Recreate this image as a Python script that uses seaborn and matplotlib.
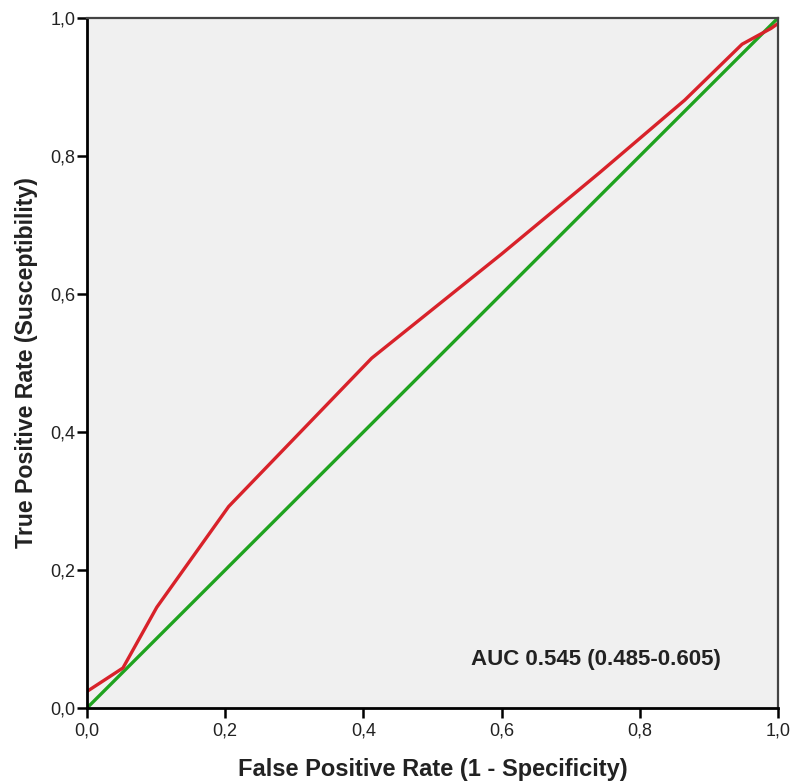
import matplotlib
matplotlib.use("Agg")
import matplotlib.pyplot as plt
import seaborn as sns
import pandas as pd

fpr = [0.0, 0.052, 0.101, 0.205, 0.412, 0.60, 0.742, 0.865, 0.948, 0.99, 1.0]
tpr = [0.024, 0.058, 0.146, 0.292, 0.507, 0.658, 0.776, 0.881, 0.962, 0.985, 0.992]
ref_x = [0.0, 1.0]
ref_y = [0.0, 1.0]
ticks = [0.0, 0.2, 0.4, 0.6, 0.8, 1.0]
tick_labels = ["0,0", "0,2", "0,4", "0,6", "0,8", "1,0"]
auc_text = "AUC 0.545 (0.485-0.605)"

sns.set_style("white")
plt.rcParams['font.family'] = ['Liberation Sans', 'DejaVu Sans']

fig = plt.figure(figsize=(7.91, 7.81), dpi=100)
ax = fig.add_axes([87/791, 1-708/781, (778-87)/791, (708-18)/781])
ax.set_facecolor("#f0f0f0")

roc = pd.DataFrame({"fpr": fpr, "tpr": tpr})
ref = pd.DataFrame({"x": ref_x, "y": ref_y})
sns.lineplot(data=ref, x="x", y="y", ax=ax, color="#1fa31f", linewidth=2.4, sort=False)
sns.lineplot(data=roc, x="fpr", y="tpr", ax=ax, color="#d8222a", linewidth=2.4, sort=False)

ax.set_xlim(0, 1)
ax.set_ylim(0, 1)
ax.set_xticks(ticks)
ax.set_xticklabels(tick_labels)
ax.set_yticks(ticks)
ax.set_yticklabels(tick_labels)
ax.tick_params(axis="both", which="major", bottom=True, left=True, top=False, right=False,
               direction="out", length=7.5, width=1.8, colors="black",
               labelsize=13, labelcolor="#222222")
ax.tick_params(axis="x", pad=3)
ax.tick_params(axis="y", pad=1)

for s in ["left", "bottom"]:
    ax.spines[s].set_color("black")
    ax.spines[s].set_linewidth(2.0)
for s in ["top", "right"]:
    ax.spines[s].set_color("#444444")
    ax.spines[s].set_linewidth(1.6)

ax.set_xlabel("False Positive Rate (1 - Specificity)", fontsize=17, fontweight="bold",
              color="#222222", labelpad=13)
ax.set_ylabel("True Positive Rate (Susceptibility)", fontsize=16.7, fontweight="bold",
              color="#222222", labelpad=9)

ax.text(0.737, 0.07, auc_text, ha="center", va="center", fontsize=16,
        fontweight="bold", color="#222222")

fig.savefig("out.png", dpi=100)
